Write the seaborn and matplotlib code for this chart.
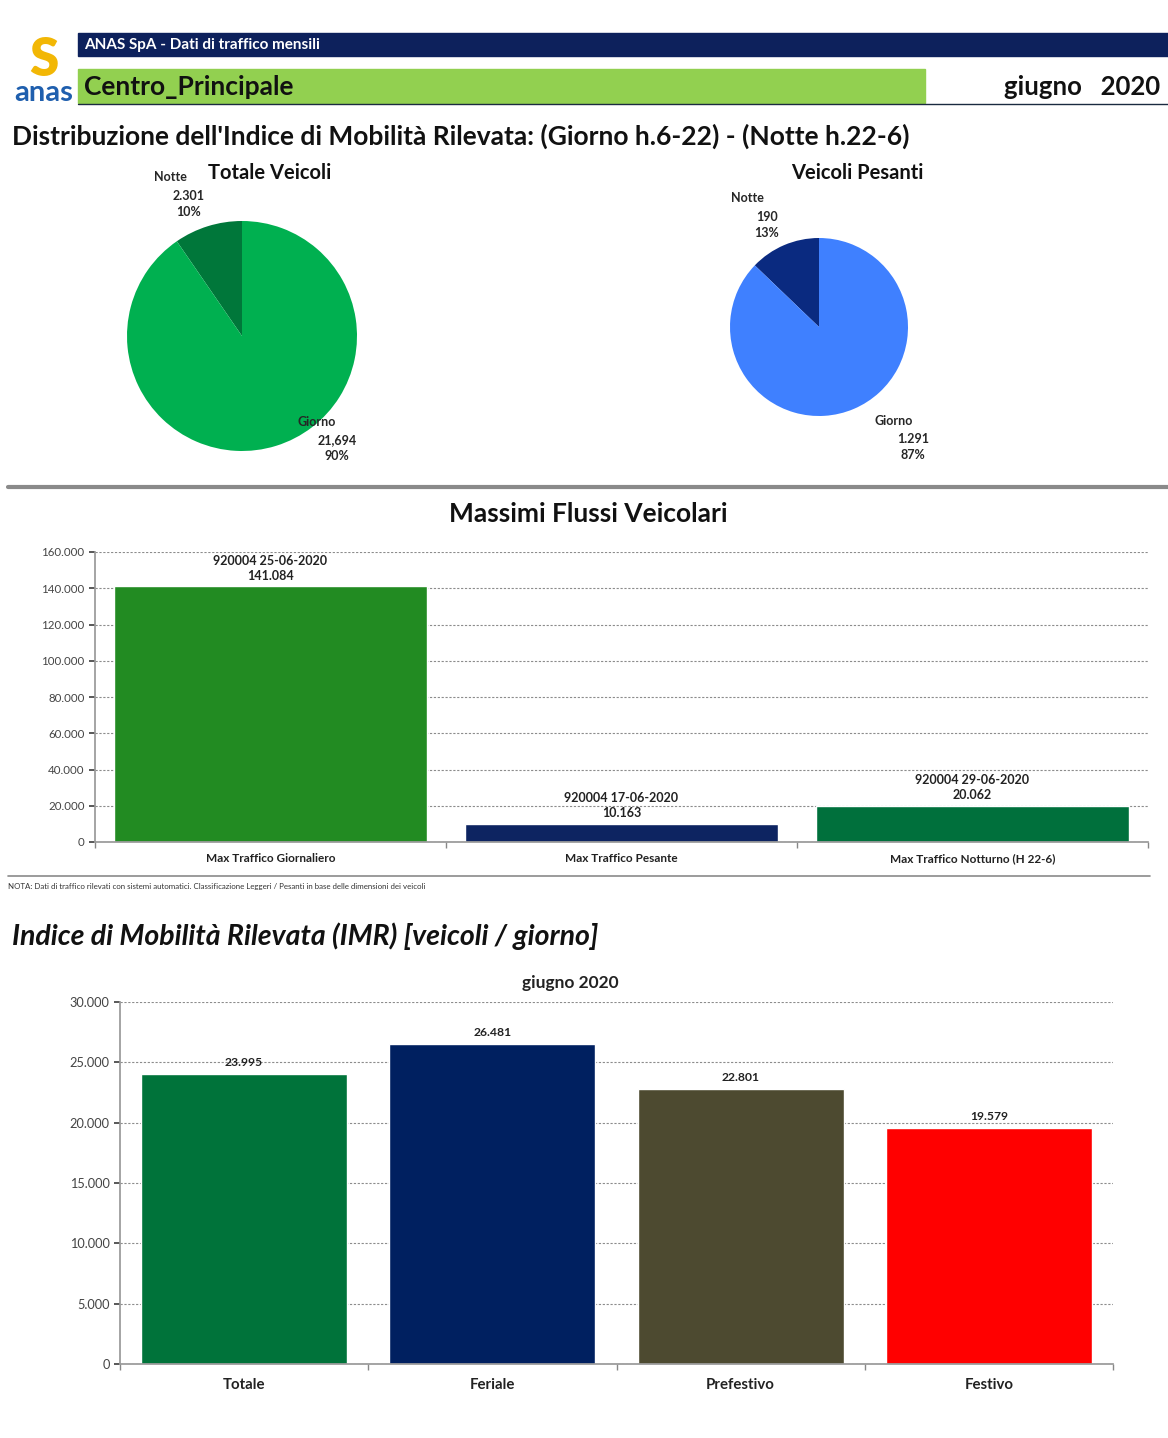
import matplotlib
matplotlib.use("Agg")
import matplotlib.pyplot as plt
import seaborn as sns
import pandas as pd
from matplotlib.lines import Line2D
from matplotlib.patches import Rectangle
from matplotlib.ticker import FuncFormatter, FixedLocator

# dati del report
pie_labels = ["Notte", "Giorno"]
tot_values = [2301, 21694]
tot_texts = ["2.301", "21,694"]
pes_values = [190, 1291]
pes_texts = ["190", "1.291"]

max_categories = ["Max Traffico Giornaliero", "Max Traffico Pesante", "Max Traffico Notturno (H 22-6)"]
max_values = [141084, 10163, 20062]
max_dates = ["920004 25-06-2020", "920004 17-06-2020", "920004 29-06-2020"]

imr_categories = ["Totale", "Feriale", "Prefestivo", "Festivo"]
imr_values = [23995, 26481, 22801, 19579]

tot_colors = ["#00773A", "#00B050"]
pes_colors = ["#0A2A80", "#3F80FF"]
max_colors = ["#228B22", "#0D2461", "#00703C"]
imr_colors = ["#00733A", "#002060", "#4D4A30", "#FF0000"]

sns.set_theme(style="white")
plt.rcParams["font.family"] = ["Lato", "DejaVu Sans"]

W, H = 1168, 1438
fig = plt.figure(figsize=(W / 100, H / 100), dpi=100)


def px_axes(x0, y0, x1, y1):
    return fig.add_axes([x0 / W, 1 - y1 / H, (x1 - x0) / W, (y1 - y0) / H])


def fx(x):
    return x / W


def fy(y):
    return 1 - y / H


def it_fmt(v, pos=None):
    return f"{int(round(v)):,}".replace(",", ".")


# intestazione
fig.add_artist(Rectangle((fx(78), fy(56)), fx(1168) - fx(78), fy(33) - fy(56),
                         transform=fig.transFigure, color="#0D215C"))
fig.text(fx(84), fy(45), "ANAS SpA - Dati di traffico mensili", color="white",
         fontsize=11, fontweight="bold", va="center")
fig.add_artist(Rectangle((fx(78), fy(103)), fx(925) - fx(78), fy(69) - fy(103),
                         transform=fig.transFigure, color="#92D050"))
fig.add_artist(Line2D([fx(78), fx(1168)], [fy(104), fy(104)], transform=fig.transFigure,
                      color="#1a2a40", lw=1))
fig.text(fx(84), fy(87), "Centro_Principale", fontsize=19, fontweight="bold", va="center", color="#111111")
fig.text(fx(1160), fy(87), "giugno   2020", fontsize=18.5, fontweight="bold", va="center", ha="right",
         color="#111111")
# logo
fig.text(fx(44), fy(60), "S", fontsize=38, fontweight="heavy", color="#F2B705", ha="center", va="center")
fig.text(fx(44), fy(93), "anas", fontsize=21, fontweight="bold", color="#1F5FAE", ha="center", va="center")

fig.text(fx(12), fy(136), "Distribuzione dell'Indice di Mobilità Rilevata: (Giorno h.6-22) - (Notte h.22-6)",
         fontsize=19, fontweight="bold", va="center", color="#111111")

# torte
ax_p1 = px_axes(127, 221, 357, 451)
ax_p1.pie(tot_values, colors=tot_colors, startangle=90, counterclock=True,
          wedgeprops=dict(linewidth=0))
ax_p1.set_xlim(-1, 1)
ax_p1.set_ylim(-1, 1)
fig.text(fx(270), fy(173), "Totale Veicoli", fontsize=14.5, fontweight="bold", ha="center", va="center",
         color="#111111")
fig.text(fx(170), fy(177), pie_labels[0], fontsize=9, fontweight="bold", ha="center", va="center")
fig.text(fx(189), fy(204), f"{tot_texts[0]}\n{tot_values[0] / sum(tot_values):.0%}", fontsize=9,
         fontweight="bold", ha="center", va="center", linespacing=1.4)
fig.text(fx(317), fy(422), pie_labels[1], fontsize=9, fontweight="bold", ha="center", va="center")
fig.text(fx(337), fy(448), f"{tot_texts[1]}\n{tot_values[1] / sum(tot_values):.0%}", fontsize=9,
         fontweight="bold", ha="center", va="center", linespacing=1.4)

ax_p2 = px_axes(730, 238, 908, 416)
ax_p2.pie(pes_values, colors=pes_colors, startangle=90, counterclock=True,
          wedgeprops=dict(linewidth=0))
ax_p2.set_xlim(-1, 1)
ax_p2.set_ylim(-1, 1)
fig.text(fx(857), fy(173), "Veicoli Pesanti", fontsize=14.5, fontweight="bold", ha="center", va="center",
         color="#111111")
fig.text(fx(747), fy(198), pie_labels[0], fontsize=9, fontweight="bold", ha="center", va="center")
fig.text(fx(767), fy(225), f"{pes_texts[0]}\n{pes_values[0] / sum(pes_values):.0%}", fontsize=9,
         fontweight="bold", ha="center", va="center", linespacing=1.4)
fig.text(fx(894), fy(421), pie_labels[1], fontsize=9, fontweight="bold", ha="center", va="center")
fig.text(fx(913), fy(447), f"{pes_texts[1]}\n{pes_values[1] / sum(pes_values):.0%}", fontsize=9,
         fontweight="bold", ha="center", va="center", linespacing=1.4)

fig.add_artist(Line2D([fx(8), fx(1168)], [fy(487), fy(487)], transform=fig.transFigure,
                      color="#8a8a8a", lw=3))

# massimi flussi
fig.text(fx(588), fy(514), "Massimi Flussi Veicolari", fontsize=19, fontweight="bold", ha="center",
         va="center", color="#111111")
ax1 = px_axes(95, 552, 1148, 842)
df_max = pd.DataFrame({"cat": max_categories, "val": max_values})
sns.barplot(data=df_max, x="cat", y="val", hue="cat", palette=max_colors, width=0.89,
            legend=False, ax=ax1, saturation=1)
ax1.set_ylim(0, 160000)
ax1.set_xlim(-0.5, 2.5)
ax1.set_yticks(range(0, 160001, 20000))
ax1.yaxis.set_major_formatter(FuncFormatter(it_fmt))
ax1.grid(axis="y", color="#8c8c8c", linestyle=(0, (2, 1.5)), lw=0.8)
ax1.set_axisbelow(True)
for i, (v, d) in enumerate(zip(max_values, max_dates)):
    ax1.text(i, v + 2500, f"{d}\n{it_fmt(v)}", ha="center", va="bottom", fontsize=9,
             fontweight="bold", color="#222222", linespacing=1.3)
ax1.set_xlabel("")
ax1.set_ylabel("")
ax1.tick_params(axis="x", length=0, labelsize=8.5, pad=8)
ax1.tick_params(axis="y", length=4, labelsize=8.3, left=True, colors="#444444")
for lbl in ax1.get_xticklabels():
    lbl.set_fontweight("bold")
    lbl.set_color("#222222")
ax1.xaxis.set_minor_locator(FixedLocator([-0.5, 0.5, 1.5, 2.5]))
ax1.tick_params(axis="x", which="minor", length=4, bottom=True, color="#888888")
for s in ["top", "right"]:
    ax1.spines[s].set_visible(False)
ax1.spines["left"].set_color("#999999")
ax1.spines["bottom"].set_color("#999999")

fig.add_artist(Line2D([fx(8), fx(1150)], [fy(876), fy(876)], transform=fig.transFigure,
                      color="#8a8a8a", lw=1.2))
fig.text(fx(8), fy(886), "NOTA: Dati di traffico rilevati con sistemi automatici. Classificazione Leggeri / "
         "Pesanti in base delle dimensioni dei veicoli", fontsize=5.7, va="center", color="#333333")

# IMR
fig.text(fx(12), fy(936), "Indice di Mobilità Rilevata (IMR) [veicoli / giorno]", fontsize=20.5,
         fontweight="bold", style="italic", va="center", color="#111111")
fig.text(fx(570), fy(983), "giugno 2020", fontsize=12.5, fontweight="bold", ha="center", va="center",
         color="#222222")
ax2 = px_axes(120, 1002, 1113, 1364)
df_imr = pd.DataFrame({"cat": imr_categories, "val": imr_values})
sns.barplot(data=df_imr, x="cat", y="val", hue="cat", palette=imr_colors, width=0.83,
            legend=False, ax=ax2, saturation=1)
ax2.set_ylim(0, 30000)
ax2.set_xlim(-0.5, 3.5)
ax2.set_yticks(range(0, 30001, 5000))
ax2.yaxis.set_major_formatter(FuncFormatter(it_fmt))
ax2.grid(axis="y", color="#8c8c8c", linestyle=(0, (2, 1.5)), lw=0.8)
ax2.set_axisbelow(True)
for i, v in enumerate(imr_values):
    ax2.text(i, v + 500, it_fmt(v), ha="center", va="bottom", fontsize=8.7, fontweight="bold",
             color="#222222")
ax2.set_xlabel("")
ax2.set_ylabel("")
ax2.tick_params(axis="x", length=0, labelsize=10.8, pad=10)
ax2.tick_params(axis="y", length=4, labelsize=9.2, left=True, colors="#444444")
for lbl in ax2.get_xticklabels():
    lbl.set_fontweight("bold")
    lbl.set_color("#222222")
ax2.xaxis.set_minor_locator(FixedLocator([-0.5, 0.5, 1.5, 2.5, 3.5]))
ax2.tick_params(axis="x", which="minor", length=4, bottom=True, color="#888888")
for s in ["top", "right"]:
    ax2.spines[s].set_visible(False)
ax2.spines["left"].set_color("#999999")
ax2.spines["bottom"].set_color("#999999")

fig.savefig("out.png", dpi=100)
